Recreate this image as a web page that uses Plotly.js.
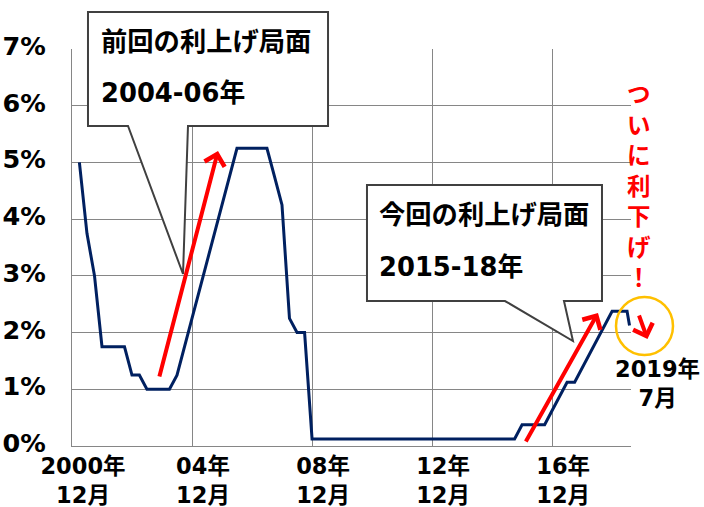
<!DOCTYPE html>
<html>
<head>
<meta charset="utf-8">
<script src="https://cdn.plot.ly/plotly-3.0.1.min.js"></script>
<style>html,body{margin:0;padding:0;background:#fff;}</style>
</head>
<body>
<div id="chart" style="width:704px;height:507px;"></div>
<script>
// Quarter-end dates (plus July 2019)
const dates = [
  '2001-03-01','2001-06-01','2001-09-01','2001-12-01',
  '2002-03-01','2002-06-01','2002-09-01','2002-12-01',
  '2003-03-01','2003-06-01','2003-09-01','2003-12-01',
  '2004-03-01','2004-06-01','2004-09-01','2004-12-01',
  '2005-03-01','2005-06-01','2005-09-01','2005-12-01',
  '2006-03-01','2006-06-01','2006-09-01','2006-12-01',
  '2007-03-01','2007-06-01','2007-09-01','2007-12-01',
  '2008-03-01','2008-06-01','2008-09-01','2008-12-01',
  '2009-03-01','2009-06-01','2009-09-01','2009-12-01',
  '2010-03-01','2010-06-01','2010-09-01','2010-12-01',
  '2011-03-01','2011-06-01','2011-09-01','2011-12-01',
  '2012-03-01','2012-06-01','2012-09-01','2012-12-01',
  '2013-03-01','2013-06-01','2013-09-01','2013-12-01',
  '2014-03-01','2014-06-01','2014-09-01','2014-12-01',
  '2015-03-01','2015-06-01','2015-09-01','2015-12-01',
  '2016-03-01','2016-06-01','2016-09-01','2016-12-01',
  '2017-03-01','2017-06-01','2017-09-01','2017-12-01',
  '2018-03-01','2018-06-01','2018-09-01','2018-12-01',
  '2019-03-01','2019-06-01','2019-07-01'
];
// Policy rate (%)
const rates = [
  5.0, 3.75, 3.0, 1.75,
  1.75, 1.75, 1.75, 1.25,
  1.25, 1.0, 1.0, 1.0,
  1.0, 1.25, 1.75, 2.25,
  2.75, 3.25, 3.75, 4.25,
  4.75, 5.25, 5.25, 5.25,
  5.25, 5.25, 4.75, 4.25,
  2.25, 2.0, 2.0, 0.125,
  0.125, 0.125, 0.125, 0.125,
  0.125, 0.125, 0.125, 0.125,
  0.125, 0.125, 0.125, 0.125,
  0.125, 0.125, 0.125, 0.125,
  0.125, 0.125, 0.125, 0.125,
  0.125, 0.125, 0.125, 0.125,
  0.125, 0.125, 0.125, 0.375,
  0.375, 0.375, 0.375, 0.625,
  0.875, 1.125, 1.125, 1.375,
  1.625, 1.875, 2.125, 2.375,
  2.375, 2.375, 2.125
];
const xTickVals = ['2000-12-01','2004-12-01','2008-12-01','2012-12-01','2016-12-01'];
const xTickText = ['2000年<br>12月','04年<br>12月','08年<br>12月','12年<br>12月','16年<br>12月'];
const yTickVals = [0,1,2,3,4,5,6,7];
const yTickText = ['0%','1%','2%','3%','4%','5%','6%','7%'];

const callout1 = ['前回の利上げ局面','2004-06年'];
const callout2 = ['今回の利上げ局面','2015-18年'];
const cutText = 'ついに利下げ！';
const cutDate = ['2019年','7月'];

// layout geometry (pixels)
const W = 704, H = 507;
const L = 72, R = 631, T = 49, B = 446;
const P = x => (x - L) / (R - L);
const Q = y => (B - y) / (B - T);
const path = pts => pts.map((p,i)=> (i?'L':'M') + P(p[0]).toFixed(4) + ',' + Q(p[1]).toFixed(4)).join(' ') + ' Z';

const FONT = 'DejaVu Sans, Noto Sans CJK JP, sans-serif';

const trace = {
  x: dates, y: rates, type: 'scatter', mode: 'lines',
  line: {color: '#002060', width: 3}, hoverinfo: 'skip'
};

const shapes = [
  {type:'path', xref:'paper', yref:'paper',
   path: path([[88,12],[328,12],[328,126],[188,126],[183,274],[128,126],[88,126]]),
   fillcolor:'#ffffff', line:{color:'#404040', width:2}},
  {type:'path', xref:'paper', yref:'paper',
   path: path([[367,185],[602,185],[602,301],[564,301],[573,341],[505,301],[367,301]]),
   fillcolor:'#ffffff', line:{color:'#404040', width:2}},
  {type:'circle', xref:'paper', yref:'paper',
   x0:P(616), x1:P(673), y0:Q(355), y1:Q(297),
   line:{color:'#FFC000', width:2.5}}
];

const annotations = [
  {xref:'paper', yref:'paper', x:P(99), y:Q(42), xanchor:'left', yanchor:'middle', showarrow:false,
   text:callout1[0], font:{family:FONT, size:26.3, color:'#000', weight:'bold'}},
  {xref:'paper', yref:'paper', x:P(99), y:Q(93), xanchor:'left', yanchor:'middle', showarrow:false,
   text:callout1[1], font:{family:FONT, size:25.8, color:'#000', weight:'bold'}},
  {xref:'paper', yref:'paper', x:P(377), y:Q(215), xanchor:'left', yanchor:'middle', showarrow:false,
   text:callout2[0], font:{family:FONT, size:26.3, color:'#000', weight:'bold'}},
  {xref:'paper', yref:'paper', x:P(377), y:Q(267), xanchor:'left', yanchor:'middle', showarrow:false,
   text:callout2[1], font:{family:FONT, size:25.8, color:'#000', weight:'bold'}},
  {xref:'paper', yref:'paper', x:P(638.5), y:Q(186), xanchor:'center', yanchor:'middle', showarrow:false,
   text: Array.from(cutText).join('<br>'), font:{family:FONT, size:23.5, color:'#FF0000', weight:'bold'}},
  {xref:'paper', yref:'paper', x:P(657), y:Q(383), xanchor:'center', yanchor:'middle', showarrow:false,
   text: cutDate.join('<br>'), font:{family:FONT, size:22.5, color:'#000', weight:'bold'}},
  // red arrows
  {xref:'paper', yref:'paper', x:P(218), y:Q(151), ax:159-218, ay:378-151, axref:'pixel', ayref:'pixel',
   text:'', showarrow:true, arrowhead:4, arrowsize:1.0, arrowwidth:4, arrowcolor:'#FF0000'},
  {xref:'paper', yref:'paper', x:P(598), y:Q(313), ax:525-598, ay:443-313, axref:'pixel', ayref:'pixel',
   text:'', showarrow:true, arrowhead:4, arrowsize:1.0, arrowwidth:4, arrowcolor:'#FF0000'},
  {xref:'paper', yref:'paper', x:P(647.5), y:Q(339), ax:638.5-647.5, ay:314-339, axref:'pixel', ayref:'pixel',
   text:'', showarrow:true, arrowhead:4, arrowsize:1.0, arrowwidth:4, arrowcolor:'#FF0000'}
];

const layout = {
  width: W, height: H,
  margin: {l: L, r: W - R, t: T, b: H - B, pad: 0},
  paper_bgcolor: '#ffffff', plot_bgcolor: '#ffffff',
  showlegend: false,
  font: {family: FONT, color: '#000'},
  xaxis: {
    type: 'date', range: ['2000-12-01', '2019-07-19'],
    tickvals: xTickVals, ticktext: xTickText,
    showgrid: true, gridcolor: '#868686', gridwidth: 1,
    showline: true, linecolor: '#868686', linewidth: 1,
    ticks: '', zeroline: false,
    ticklabelshift: 11, ticklabelstandoff: 0,
    tickfont: {family: FONT, size: 22.5, color: '#000', weight: 'bold'},
    fixedrange: true
  },
  yaxis: {
    range: [0, 7], tickvals: yTickVals, ticktext: yTickText,
    showgrid: true, gridcolor: '#868686', gridwidth: 1,
    showline: true, linecolor: '#868686', linewidth: 1,
    ticks: '', zeroline: false,
    ticklabelstandoff: 20, ticklabelshift: -3,
    tickfont: {family: FONT, size: 25.5, color: '#000', weight: 'bold'},
    fixedrange: true
  },
  shapes: shapes,
  annotations: annotations
};

Plotly.newPlot('chart', [trace], layout, {displayModeBar: false, staticPlot: true});
</script>
</body>
</html>
